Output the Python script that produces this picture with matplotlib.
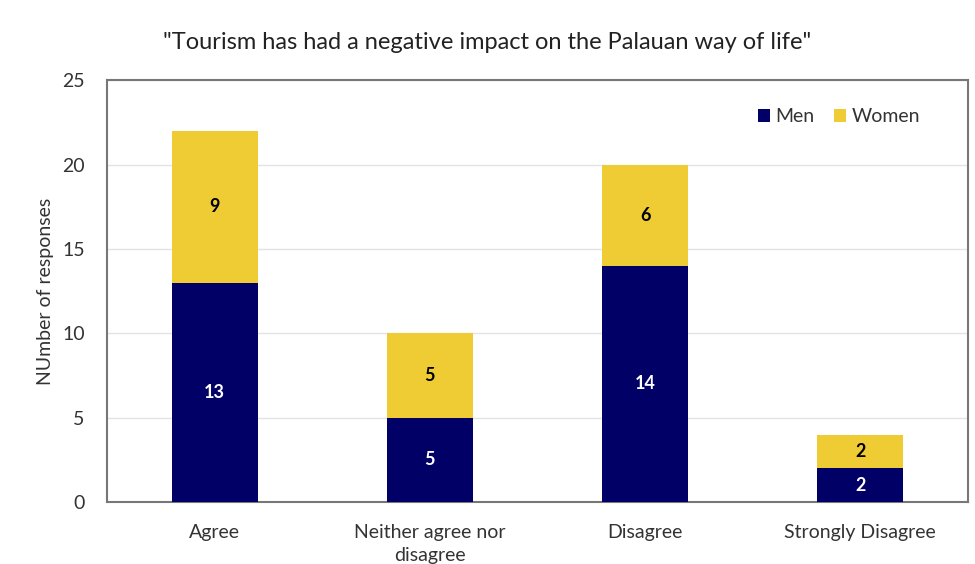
import matplotlib
matplotlib.use("Agg")
import matplotlib.pyplot as plt
import numpy as np

categories = ["Agree", "Neither agree nor\ndisagree", "Disagree", "Strongly Disagree"]
men = [13, 5, 14, 2]
women = [9, 5, 6, 2]
yticks = [0, 5, 10, 15, 20, 25]

plt.rcParams['font.family'] = ['Lato', 'DejaVu Sans']

fig = plt.figure(figsize=(9.75, 5.64), dpi=100)
ax = fig.add_axes([0.1097, 0.1099, 0.883, 0.748])

x = np.arange(len(categories))
navy = "#000066"
yellow = "#EFCC33"
w = 0.4
ax.bar(x, men, w, color=navy, label="Men", zorder=3)
ax.bar(x, women, w, bottom=men, color=yellow, label="Women", zorder=3)

for xi, m, f in zip(x, men, women):
    ax.text(xi, m / 2, str(m), ha="center", va="center", color="white",
            fontsize=13, fontweight="bold", zorder=4)
    ax.text(xi, m + f / 2, str(f), ha="center", va="center", color="black",
            fontsize=13, fontweight="bold", zorder=4)

ax.set_xlim(-0.5, 3.5)
ax.set_ylim(0, 25)
ax.set_yticks(yticks)
ax.set_xticks(x)
ax.set_xticklabels(categories, fontsize=14, color="#333333", linespacing=1.4)
ax.tick_params(axis="y", labelsize=14, labelcolor="#333333", length=0, pad=16)
ax.tick_params(axis="x", length=0, pad=16)
ax.yaxis.grid(True, color="#e3e3e3", linewidth=1, zorder=0)
for s in ax.spines.values():
    s.set_color("#777777")
    s.set_linewidth(1.5)

ax.set_ylabel("NUmber of responses", fontsize=14, color="#333333", labelpad=6)
fig.text(0.5, 0.925, "\"Tourism has had a negative impact on the Palauan way of life\"",
         ha="center", va="center", fontsize=17, color="#222222")

leg = ax.legend(loc="upper right", bbox_to_anchor=(0.965, 0.975), ncol=2, frameon=False,
                fontsize=14, handlelength=0.6, handleheight=0.6, handletextpad=0.3,
                columnspacing=1.0)
for t in leg.get_texts():
    t.set_color("#333333")

fig.savefig("out.png", dpi=100)
